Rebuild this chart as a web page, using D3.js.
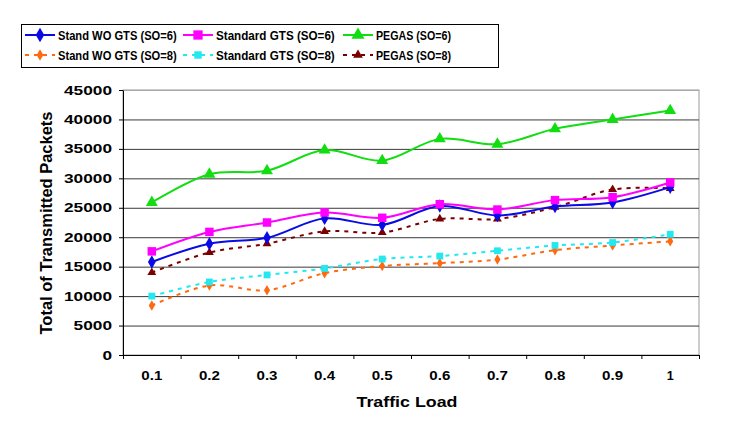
<!DOCTYPE html>
<html>
<head>
<meta charset="utf-8">
<script src="https://cdn.jsdelivr.net/npm/d3@7"></script>
<style>
  html, body { margin: 0; padding: 0; background: #fff; }
  svg { display: block; font-family: Arial, "Liberation Sans", sans-serif; }
</style>
</head>
<body>
<svg id="chart" width="731" height="432"></svg>
<script>
// ---- data ----
const categories = ["0.1","0.2","0.3","0.4","0.5","0.6","0.7","0.8","0.9","1"];
const yTicks = [0,5000,10000,15000,20000,25000,30000,35000,40000,45000];
const standWO6  = [15800,18900,19900,23200,22100,25300,23700,25200,25900,28500];
const standard6 = [17600,20900,22500,24200,23300,25600,24700,26300,26800,29300];
const pegas6    = [25900,30700,31300,34800,33000,36700,35800,38400,40000,41500];
const standWO8  = [8400,11800,11000,13900,15100,15600,16200,17800,18600,19300];
const standard8 = [10000,12400,13600,14700,16300,16800,17700,18600,19100,20500];
const pegas8    = [14000,17400,18900,21000,20800,23100,23100,25100,28100,28300];
const seriesNames = ["Stand WO GTS (SO=6)","Standard GTS (SO=6)","PEGAS (SO=6)",
                     "Stand WO GTS (SO=8)","Standard GTS (SO=8)","PEGAS (SO=8)"];

const series = [
  {name: seriesNames[0], values: standWO6,  color:"#0a0ae6", dash:null,  sym:d3.symbolDiamond,  size:52},
  {name: seriesNames[1], values: standard6, color:"#ff00ff", dash:null,  sym:d3.symbolSquare,   size:72},
  {name: seriesNames[2], values: pegas6,    color:"#11dd11", dash:null,  sym:d3.symbolTriangle, size:62},
  {name: seriesNames[3], values: standWO8,  color:"#ff6a10", dash:"4,5", sym:d3.symbolDiamond,  size:32},
  {name: seriesNames[4], values: standard8, color:"#22e8f0", dash:"4,5", sym:d3.symbolSquare,   size:46},
  {name: seriesNames[5], values: pegas8,    color:"#7a0000", dash:"4,5", sym:d3.symbolTriangle, size:34}
];

const svg = d3.select("#chart");
const L = 123, R = 699, T = 90, B = 355;

const x = d3.scaleBand().domain(categories).range([L, R]).padding(0);
const xEdge = d3.scaleLinear().domain([0, categories.length]).range([L, R]);
const y = d3.scaleLinear().domain([0, 45000]).range([B, T]);
const cx = c => x(c) + x.bandwidth() / 2;

// plot border
svg.append("rect").attr("x", L).attr("y", T).attr("width", R - L).attr("height", B - T)
  .attr("fill", "#fff").attr("stroke", "#9a9a9a").attr("stroke-width", 1);

// gridlines
const grid = svg.append("g").attr("transform", `translate(${L},0)`)
  .call(d3.axisLeft(y).tickValues(yTicks.filter(v => v > 0)).tickSize(-(R - L)).tickFormat(""));
grid.select(".domain").remove();
grid.selectAll("line").attr("stroke", d => d === 45000 ? "#a8a8a8" : "#3a3a3a").attr("stroke-width", 1);

// y axis
const ya = svg.append("g").attr("transform", `translate(${L},0)`)
  .call(d3.axisLeft(y).tickValues(yTicks).tickFormat(d3.format("d")).tickSize(4).tickPadding(7).tickSizeOuter(0));
ya.select(".domain").attr("stroke", "#000");
ya.selectAll("line").attr("stroke", "#000");
ya.selectAll("text").attr("font-size", 12.5).attr("font-weight", "bold").attr("fill", "#000")
  .attr("textLength", d => String(d).length * 9.6).attr("lengthAdjust", "spacingAndGlyphs");

// x axis: edge ticks
const xe = svg.append("g").attr("transform", `translate(0,${B})`)
  .call(d3.axisBottom(xEdge).tickValues(d3.range(categories.length + 1)).tickSize(4).tickFormat("").tickSizeOuter(0));
xe.select(".domain").attr("stroke", "#000");
xe.selectAll("line").attr("stroke", "#000");

// x axis labels
const xl = svg.append("g").attr("transform", `translate(0,${B})`)
  .call(d3.axisBottom(x).tickSize(0).tickPadding(16));
xl.select(".domain").remove();
xl.selectAll("text").attr("font-size", 12.5).attr("font-weight", "bold").attr("fill", "#000")
  .attr("textLength", d => d.length * 7).attr("lengthAdjust", "spacingAndGlyphs");

// axis titles
svg.append("text").attr("x", 407).attr("y", 407).attr("text-anchor", "middle")
  .attr("font-size", 15).attr("font-weight", "bold")
  .attr("textLength", 101).attr("lengthAdjust", "spacingAndGlyphs")
  .text("Traffic Load");
svg.append("text").attr("transform", "translate(52,223) rotate(-90)").attr("text-anchor", "middle")
  .attr("font-size", 16).attr("font-weight", "bold")
  .attr("textLength", 223).attr("lengthAdjust", "spacingAndGlyphs")
  .text("Total of Transmitted Packets");

// lines
const line = d3.line().x((d, i) => cx(categories[i])).y(d => y(d)).curve(d3.curveCatmullRom.alpha(0.5));
const drawOrder = [3, 4, 5, 2, 0, 1];
drawOrder.forEach(k => {
  const s = series[k];
  svg.append("path").attr("d", line(s.values)).attr("fill", "none")
    .attr("stroke", s.color).attr("stroke-width", 2)
    .attr("stroke-dasharray", s.dash);
});
drawOrder.forEach(k => {
  const s = series[k];
  svg.append("g").selectAll("path").data(s.values).join("path")
    .attr("transform", (d, i) => `translate(${cx(categories[i])},${y(d)})`)
    .attr("d", d3.symbol().type(s.sym).size(s.size))
    .attr("fill", s.color);
});

// legend
svg.append("rect").attr("x", 21.5).attr("y", 24.5).attr("width", 477).attr("height", 43)
  .attr("fill", "#fff").attr("stroke", "#000").attr("stroke-width", 1);
const colX = [25, 183, 343];
const rowY = [35, 55];
series.forEach((s, k) => {
  const lx = colX[k % 3], ly = rowY[Math.floor(k / 3)];
  const g = svg.append("g");
  g.append("line").attr("x1", lx).attr("x2", lx + 30).attr("y1", ly).attr("y2", ly)
    .attr("stroke", s.color).attr("stroke-width", 2).attr("stroke-dasharray", s.dash);
  g.append("path").attr("transform", `translate(${lx + 15},${ly})`)
    .attr("d", d3.symbol().type(s.sym).size(s.size * 1.2)).attr("fill", s.color);
  g.append("text").attr("x", lx + 33).attr("y", ly).attr("dy", "0.37em")
    .attr("font-size", 12.5).attr("font-weight", "bold").attr("fill", "#000")
    .attr("textLength", s.name.length * 6.25).attr("lengthAdjust", "spacingAndGlyphs")
    .text(s.name);
});
</script>
</body>
</html>
